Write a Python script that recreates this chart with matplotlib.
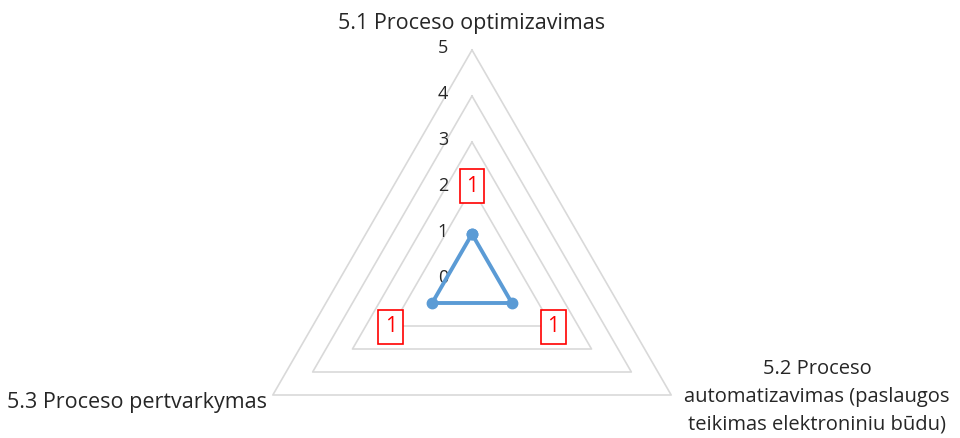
import numpy as np
import matplotlib
matplotlib.use("Agg")
import matplotlib.pyplot as plt

plt.rcParams['font.family'] = ['Open Sans', 'DejaVu Sans']

# === duomenys ===
categories = ["5.1 Proceso optimizavimas",
              "5.2 Proceso\nautomatizavimas (paslaugos\nteikimas elektroniniu būdu)",
              "5.3 Proceso pertvarkymas"]
values = [1, 1, 1]
levels = [0, 1, 2, 3, 4, 5]

line_color = '#5B9BD5'
grid_color = '#D9D9D9'
text_color = '#262626'

angles = np.linspace(0, 2 * np.pi, len(categories), endpoint=False)
closed_ang = np.append(angles, angles[0])
closed_val = np.append(values, values[0])

fig = plt.figure(figsize=(9.6, 4.38), dpi=100)
# centras ~ (472, 280) px, spindulys 230 px
ax = fig.add_axes([242 / 960, (158 - 230) / 438, 460 / 960, 460 / 438],
                  projection='polar')
ax.set_theta_zero_location('N')
ax.set_theta_direction(-1)
ax.set_ylim(0, levels[-1])
ax.grid(False)
ax.spines['polar'].set_visible(False)
ax.set_xticks([])
ax.set_yticks([])
ax.patch.set_alpha(0)

# trikampis tinklelis
for lv in levels[1:]:
    ax.plot(closed_ang, [lv] * len(closed_ang), color=grid_color,
            linewidth=1.2, zorder=1, clip_on=False)

# ašies skalė
for lv in levels:
    ax.annotate(str(lv), (0, lv), xytext=(-29, 2), textcoords='offset pixels',
                ha='center', va='center', fontsize=13, color=text_color,
                annotation_clip=False)

# duomenų linija
ax.plot(closed_ang, closed_val, color=line_color, linewidth=2.8,
        marker='o', markersize=7.5, zorder=3, clip_on=False)

# duomenų žymės
for a, v in zip(angles, values):
    dx = 48 * np.sin(a)
    dy = 48 * np.cos(a)
    ax.annotate(str(v), (a, v), xytext=(dx, dy), textcoords='offset pixels',
                ha='center', va='center', fontsize=15, color='#FF0000',
                bbox=dict(boxstyle='square,pad=0.3', fc='white', ec='#FF0000', lw=1.2),
                annotation_clip=False, zorder=4)

# kategorijų pavadinimai
ax.annotate(categories[0], (angles[0], levels[-1]), xytext=(0, 27),
            textcoords='offset pixels', ha='center', va='center',
            fontsize=15.5, color=text_color, annotation_clip=False)
ax.annotate(categories[1], (angles[1], levels[-1]), xytext=(146, -2),
            textcoords='offset pixels', ha='center', va='center',
            fontsize=14.5, linespacing=1.5, color=text_color,
            annotation_clip=False)
ax.annotate(categories[2], (angles[2], levels[-1]), xytext=(-6, -7),
            textcoords='offset pixels', ha='right', va='center',
            fontsize=15.5, color=text_color, annotation_clip=False)

fig.savefig('out.png', dpi=100)
